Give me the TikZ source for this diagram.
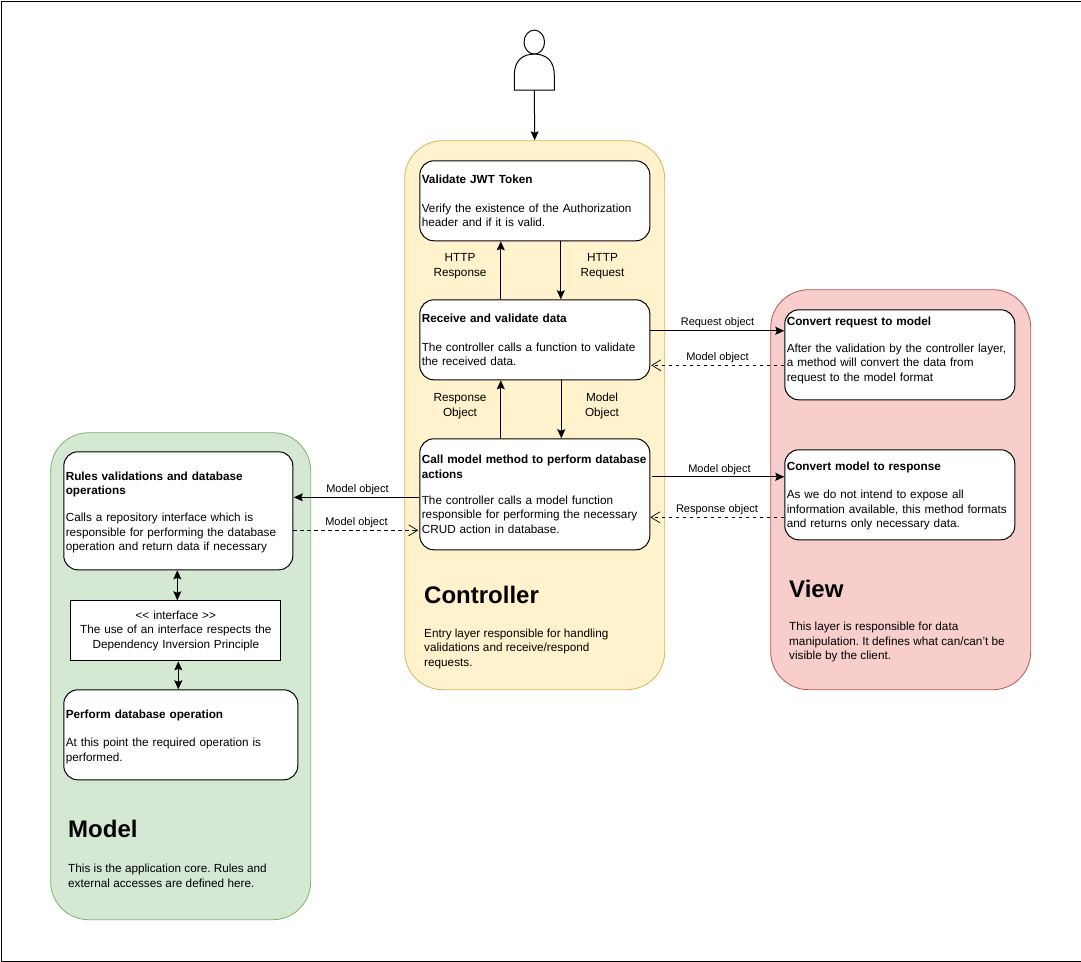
\documentclass[tikz,border=0pt]{standalone}
\usepackage{fontspec}
\setmainfont{Liberation Sans}
\usetikzlibrary{arrows.meta,positioning,shapes.geometric}
\definecolor{ctlfill}{HTML}{FFF2CC}\definecolor{ctlline}{HTML}{D6B656}
\definecolor{viewfill}{HTML}{F8CECC}\definecolor{viewline}{HTML}{B85450}
\definecolor{modfill}{HTML}{D5E8D4}\definecolor{modline}{HTML}{82B366}
\newcommand{\bodyfont}{\fontsize{11.75}{14.5}\selectfont\frenchspacing}
\newcommand{\edgefont}{\fontsize{11}{13}\selectfont\frenchspacing}
\newcommand{\headfont}{\fontsize{24}{28}\selectfont\bfseries}
\newcommand{\tailgap}[1]{\\[#1]\mbox{}}
\tikzset{
  layer/.style={draw=#1,line width=0.8pt,rounded corners=38pt,anchor=north west,inner sep=0pt},
  stepbox/.style args={#1x#2}{draw=black,fill=white,line width=1pt,rounded corners=14pt,anchor=north west,
     minimum width=#1pt,minimum height=#2pt,text width={#1pt-4pt},inner sep=2pt,align=left,font=\bodyfont},
  plainbox/.style args={#1x#2}{draw=black,fill=white,line width=1pt,anchor=north west,
     minimum width=#1pt,minimum height=#2pt,text width={#1pt-6pt},inner sep=3pt,align=center,font=\bodyfont},
  head/.style={anchor=west,inner sep=0pt,font=\headfont},
  desc/.style={anchor=north west,inner sep=0pt,align=left,font=\bodyfont},
  biglabel/.style={align=center,inner sep=0pt,font=\bodyfont},
  edgelabel/.style={inner sep=0pt,font=\edgefont},
  solidarrow/.style={-{Stealth[length=9pt,width=8pt,inset=1.5pt]},line width=1pt,black},
  bothways/.style={{Stealth[length=9pt,width=8pt,inset=1.5pt]}-{Stealth[length=9pt,width=8pt,inset=1.5pt]},line width=1pt,black},
  dasharrow/.style={-{Straight Barb[length=9pt,width=11pt,line width=0.7pt]},dashed,dash pattern=on 3.5pt off 3.5pt,line width=1pt,black}
}
\begin{document}
\begin{tikzpicture}[x=1pt,y=-1pt]
\useasboundingbox (0,0) rectangle (1081,961);
\node[draw=black,line width=1pt,minimum width=1080pt,minimum height=960pt,anchor=north west,inner sep=0pt] (frame) at (0.5,0.5) {};
\begin{scope}[shift={(-0.7,-0.7)}]
% layers
\node[layer=ctlline,fill=ctlfill,minimum width=260pt,minimum height=549pt] (controller) at (405,141) {};
\node[layer=viewline,fill=viewfill,minimum width=260pt,minimum height=400pt] (view) at (771,290) {};
\node[layer=modline,fill=modfill,minimum width=260pt,minimum height=487pt] (model) at (51,433) {};
% person
\node[draw=black,fill=white,ellipse,line width=1pt,minimum width=20.5pt,minimum height=24pt,inner sep=0pt] (head) at (535,42.8) {};
\coordinate (bodybase) at (535,90.8);
\draw[line width=1pt,fill=white] (515,90.8) -- (515,76) .. controls (515,62) and (522.5,54.8) .. (535,54.8)
   .. controls (547.5,54.8) and (555,62) .. (555,76) -- (555,90.8) -- cycle;
% boxes
\node[stepbox=230x80] (jwt) at (420,161) {\textbf{Validate JWT Token}\\[14.5pt]Verify the existence of the Authorization\\header and if it is valid.};
\node[stepbox=230x80] (recv) at (420,300) {\textbf{Receive and validate data}\\[14.5pt]The controller calls a function to validate\\the received data.};
\node[stepbox=230x111] (call) at (420,439) {\textbf{Call model method to perform database}\\\textbf{actions}\\[11.5pt]The controller calls a model function\\responsible for performing the necessary\\CRUD action in database.};
\node[stepbox=230x90] (tomodel) at (785,310) {\textbf{Convert request to model}\\[12.5pt]After the validation by the controller layer,\\a method will convert the data from\\request to the model format\tailgap{-3pt}};
\node[stepbox=230x90] (toresp) at (785,450) {\textbf{Convert model to response}\\[14pt]As we do not intend to expose all\\information available, this method formats\\and returns only necessary data.\tailgap{-14.5pt}};
\node[stepbox=229x118] (rules) at (64,452) {\textbf{Rules validations and database}\\\textbf{operations}\\[12.5pt]Calls a repository interface which is\\responsible for performing the database\\operation and return data if necessary\tailgap{-15.5pt}};
\node[plainbox=210x60] (iface) at (71,601) {<{}< interface >{}>\\The use of an interface respects the\\Dependency Inversion Principle};
\node[stepbox=234x90] (perform) at (64,690) {\textbf{Perform database operation}\\[13.5pt]At this point the required operation is\\performed.\tailgap{-16.5pt}};
% headings
\node[head] (ctlhead) at (424.7,595.7) {Controller};
\node[desc] (ctldesc) at (424.7,629) {Entry layer responsible for handling\\validations and receive/respond\\requests.};
\node[head] (viewhead) at (789.7,589.7) {View};
\node[desc] (viewdesc) at (789.7,622.5) {This layer is responsible for data\\manipulation. It defines what can/can’t be\\visible by the client.};
\node[head] (modhead) at (68.7,829.7) {Model};
\node[desc] (moddesc) at (68.7,864.5) {This is the application core. Rules and\\external accesses are defined here.};
% connectors
\draw[solidarrow] (bodybase) -- (controller.north);
\draw[solidarrow] ([xshift=-34pt]recv.north) -- ([xshift=-34pt]jwt.south);
\draw[solidarrow] ([xshift=26pt]jwt.south) -- ([xshift=26pt]recv.north);
\draw[solidarrow] ([xshift=-34pt]call.north) -- ([xshift=-34pt]recv.south);
\draw[solidarrow] ([xshift=26.5pt]recv.south) -- ([xshift=26.5pt]call.north);
\draw[solidarrow] ([yshift=9pt]recv.east) -- ([yshift=24pt]tomodel.west);
\draw[dasharrow] ([yshift=-10.5pt]tomodel.west) -- ([xshift=1pt,yshift=-25.5pt]recv.east);
\draw[solidarrow] ([xshift=1.5pt,yshift=17.5pt]call.east) -- ([yshift=18pt]toresp.west);
\draw[dasharrow] ([yshift=-22.5pt]toresp.west) -- ([yshift=-23pt]call.east);
\draw[solidarrow] ([yshift=-3pt]call.west) -- ([xshift=0.5pt,yshift=13.5pt]rules.east);
\draw[dasharrow] ([yshift=-19.5pt]rules.east) -- ([xshift=-1pt,yshift=-36pt]call.west);
\draw[bothways] ([xshift=-1pt]rules.south) -- ([xshift=1.5pt]iface.north);
\draw[bothways] ([xshift=2.5pt]iface.south) -- ([xshift=-2.5pt]perform.north);
% labels
\node[biglabel] (lresp) at (460.7,266.7) {HTTP\\Response};
\node[biglabel] (lreq) at (603.2,266.7) {HTTP\\Request};
\node[biglabel] (lrobj) at (460.7,406.7) {Response\\Object};
\node[biglabel] (lmobj) at (602.7,406.7) {Model\\Object};
\node[edgelabel] (e1) at (718.2,323.5) {Request object};
\node[edgelabel] (e2) at (718.2,358.5) {Model object};
\node[edgelabel] (e3) at (720.2,470.5) {Model object};
\node[edgelabel] (e4) at (717.7,510.5) {Response object};
\node[edgelabel] (e5) at (358.2,490.5) {Model object};
\node[edgelabel] (e6) at (357.2,523.5) {Model object};
\end{scope}
\end{tikzpicture}
\end{document}
